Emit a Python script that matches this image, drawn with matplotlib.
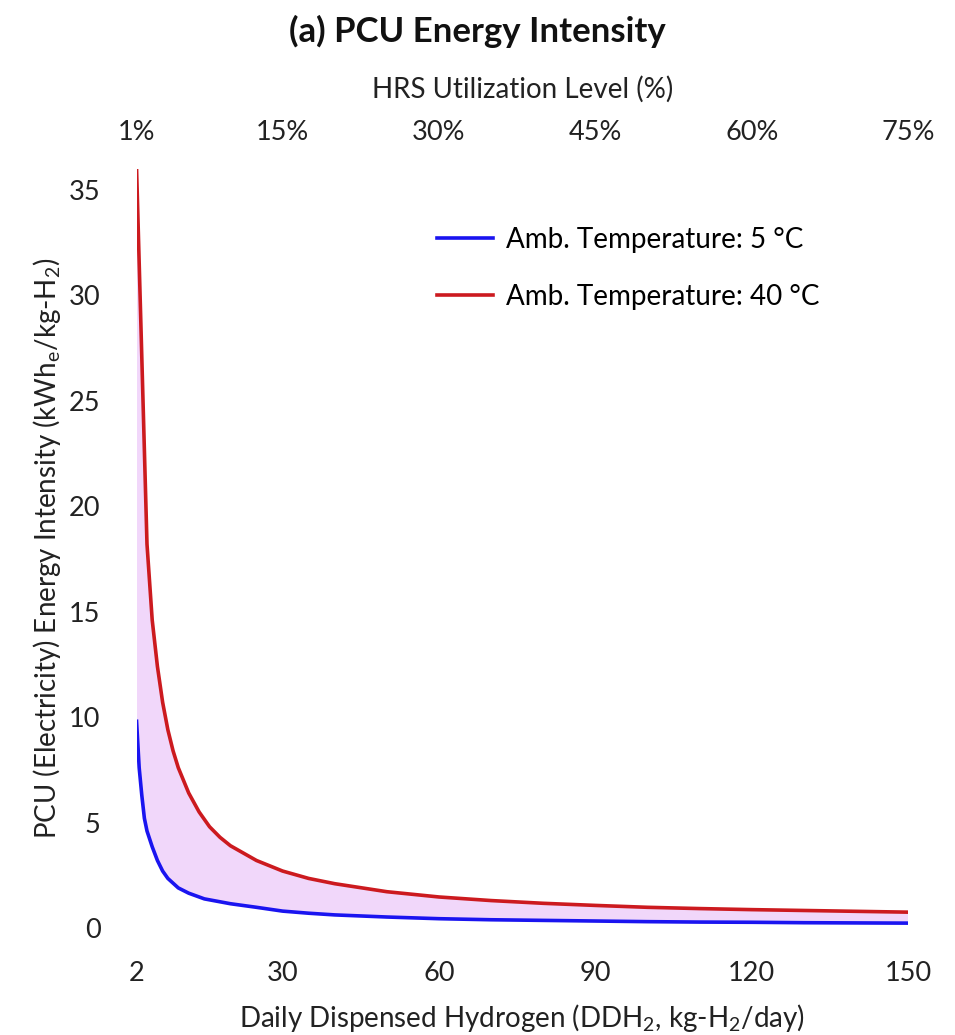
import numpy as np
import matplotlib
matplotlib.use('Agg')
import matplotlib.pyplot as plt

# values
ddh_40c = [2, 4, 5, 6, 7, 8, 9, 10, 12, 14, 16, 18, 20, 25, 30, 35, 40, 50,
           60, 70, 80, 90, 100, 110, 120, 130, 140, 150]
temp_40c = [36.0, 18.2, 14.6, 12.4, 10.7, 9.4, 8.4, 7.6, 6.4, 5.5, 4.8, 4.3,
            3.9, 3.2, 2.7, 2.35, 2.1, 1.72, 1.47, 1.3, 1.17, 1.07, 0.98, 0.92,
            0.87, 0.83, 0.79, 0.75]
ddh_5c = [2, 2.5, 3, 3.5, 4, 5, 6, 7, 8, 10, 12, 15, 20, 25, 30, 35, 40, 50,
          60, 70, 80, 90, 100, 110, 120, 130, 140, 150]
temp_5c = [9.8, 7.6, 6.3, 5.2, 4.6, 3.85, 3.2, 2.7, 2.35, 1.9, 1.65, 1.38,
           1.15, 0.98, 0.8, 0.7, 0.62, 0.52, 0.44, 0.39, 0.36, 0.33, 0.3,
           0.28, 0.27, 0.25, 0.24, 0.23]

x_ticks = [2, 30, 60, 90, 120, 150]
y_ticks = [0, 5, 10, 15, 20, 25, 30, 35]
top_ticks = [1, 15, 30, 45, 60, 75]   # utilization in %

plt.rcParams['font.family'] = ['Lato', 'DejaVu Sans']
plt.rcParams['mathtext.fontset'] = 'custom'
plt.rcParams['mathtext.rm'] = 'Lato'
plt.rcParams['mathtext.it'] = 'Lato:italic'

txt = '#222222'
fs = 19.5

fig = plt.figure(figsize=(9.55, 10.35), dpi=100)
ax = fig.add_axes([0.143, 0.1034, 0.808, 0.7336])

# shaded band between the two curves
band_x = np.r_[ddh_40c, ddh_5c[::-1]]
band_y = np.r_[temp_40c, temp_5c[::-1]]
ax.fill(band_x, band_y, color='#f1d7fa', lw=0)
ax.plot(ddh_5c, temp_5c, color='#1a14f0', lw=2.6, label='Amb. Temperature: 5 °C')
ax.plot(ddh_40c, temp_40c, color='#cc1a1f', lw=2.6, label='Amb. Temperature: 40 °C')

ax.set_xlim(2, 150)
ax.set_ylim(0, 36)
ax.set_xticks(x_ticks)
ax.set_yticks(y_ticks)
for s in ax.spines.values():
    s.set_visible(False)
ax.tick_params(axis='x', length=0, pad=24, labelsize=fs, colors=txt)
ax.tick_params(axis='y', length=0, pad=26, labelsize=fs, colors=txt)

ax.set_xlabel('Daily Dispensed Hydrogen (DDH$_2$, kg-H$_2$/day)',
              fontsize=20, color=txt, labelpad=11)
ax.set_ylabel('PCU (Electricity) Energy Intensity (kWh$_\\mathrm{e}$/kg-H$_2$)',
              fontsize=20, color=txt, labelpad=4)

sec = ax.secondary_xaxis('top', functions=(lambda x: x / 2, lambda p: p * 2))
sec.set_xticks(top_ticks)
sec.set_xticklabels([f'{t}%' for t in top_ticks])
sec.tick_params(length=0, pad=17, labelsize=fs, colors=txt)
sec.spines['top'].set_visible(False)
sec.set_xlabel('HRS Utilization Level (%)', fontsize=20, color=txt, labelpad=16)

fig.text(0.50, 0.970, '(a) PCU Energy Intensity', ha='center', va='center',
         fontsize=25, fontweight='bold', color='#111111')

ax.legend(loc='upper left', bbox_to_anchor=(437 / 955, 1 - 227 / 1035),
          bbox_transform=fig.transFigure, frameon=False, fontsize=20,
          handlelength=2.0, handletextpad=0.47, labelspacing=1.1,
          borderpad=0, borderaxespad=0)

fig.savefig('out.png', dpi=100)
